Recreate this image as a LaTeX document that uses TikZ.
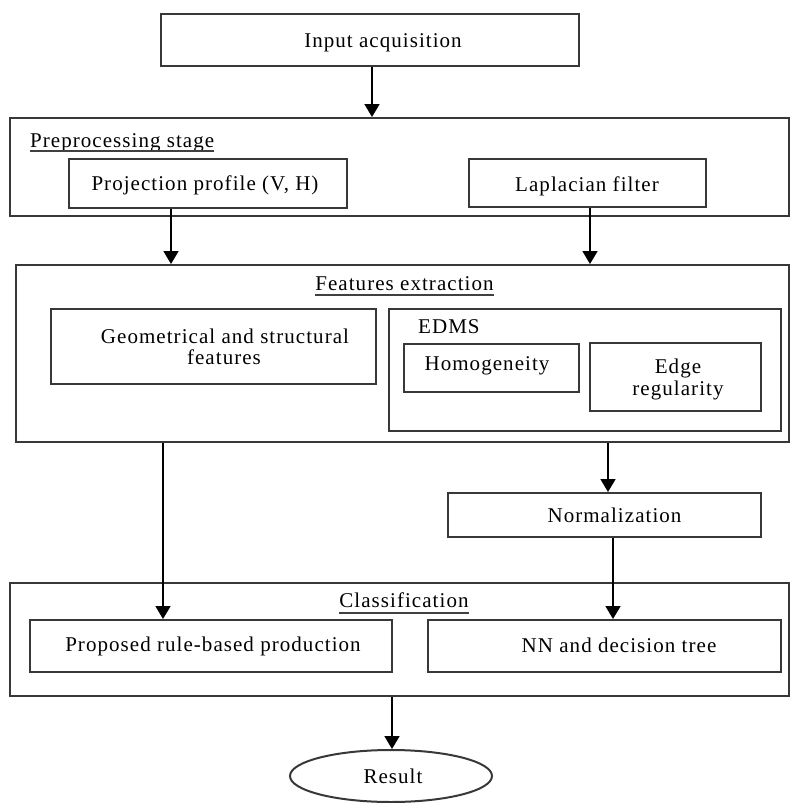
\documentclass[tikz,border=0pt]{standalone}
\usepackage{fontspec}
\setmainfont{Liberation Serif}[LetterSpace=5]
\usetikzlibrary{arrows.meta,shapes.geometric}
\tikzset{
  box/.style={draw=black!78, line width=2pt, rectangle, inner sep=0pt},
  lbl/.style={inner sep=0pt, font=\fontsize{21}{22}\selectfont, text=black, anchor=base, align=center},
  arr/.style={draw=black, line width=1.8pt, -{Triangle[width=15pt,length=13pt]}},
  uline/.style={draw=black!75, line width=1.5pt}
}
\begin{document}
\begin{tikzpicture}[x=1pt,y=-1pt]
\useasboundingbox (0,0) rectangle (791,803);
% boxes
\node[box, minimum width=418pt, minimum height=52pt] (inp) at (370,40) {};
\node[box, minimum width=779pt, minimum height=98pt] (pre) at (399.5,167) {};
\node[box, minimum width=278pt, minimum height=49pt] (proj) at (208,183.5) {};
\node[box, minimum width=237pt, minimum height=48pt] (lap) at (587.5,183) {};
\node[box, minimum width=773pt, minimum height=177pt] (feat) at (402.5,353.5) {};
\node[box, minimum width=325pt, minimum height=75pt] (geo) at (213.5,346.5) {};
\node[box, minimum width=392pt, minimum height=122pt] (edms) at (585,370) {};
\node[box, minimum width=175pt, minimum height=48pt] (hom) at (491.5,368) {};
\node[box, minimum width=171pt, minimum height=68pt] (edge) at (675.5,377) {};
\node[box, minimum width=313pt, minimum height=44pt] (norm) at (604.5,515) {};
\node[box, minimum width=779pt, minimum height=113pt] (cls) at (399.5,639.5) {};
\node[box, minimum width=362pt, minimum height=52pt] (prop) at (211,646) {};
\node[box, minimum width=353pt, minimum height=52pt] (nn) at (604.5,646) {};
\node[box, ellipse, minimum width=202pt, minimum height=52pt] (res) at (391,776) {};
% labels
\node[lbl] (tinp) at (383,47) {Input acquisition};
\node[lbl, anchor=base west] (tpre) at (30,147) {Preprocessing stage};
\node[lbl] (tproj) at (205,190) {Projection profile (V, H)};
\node[lbl] (tlap) at (587,191) {Laplacian filter};
\node[lbl] (tfeat) at (404.5,290) {Features extraction};
\node[lbl] (tgeo1) at (225,343) {Geometrical and structural};
\node[lbl] (tgeo2) at (224,364) {features};
\node[lbl, anchor=base west] (tedms) at (418,333) {EDMS};
\node[lbl] (thom) at (487,370) {Homogeneity};
\node[lbl] (tedge1) at (678,373) {Edge};
\node[lbl] (tedge2) at (678,395) {regularity};
\node[lbl] (tnorm) at (614.5,522) {Normalization};
\node[lbl] (tcls) at (404,607) {Classification};
\node[lbl] (tprop) at (213,651) {Proposed rule-based production};
\node[lbl] (tnn) at (619,652) {NN and decision tree};
\node[lbl] (tres) at (393,783) {Result};
% underlines
\draw[uline] ([yshift=-4pt]tpre.base west) -- ([yshift=-4pt]tpre.base east);
\draw[uline] ([yshift=-5pt]tfeat.base west) -- ([yshift=-5pt]tfeat.base east);
\draw[uline] ([yshift=-6pt]tcls.base west) -- ([yshift=-6pt]tcls.base east);
% arrow columns
\coordinate (c1) at (372,0);
\coordinate (c2) at (171,0);
\coordinate (c3) at (590,0);
\coordinate (c4) at (608,0);
\coordinate (c5) at (613,0);
\coordinate (c6) at (163,0);
\coordinate (c7) at (392,0);
% arrows
\draw[arr] (inp.south -| c1) -- (pre.north -| c1);
\draw[arr] (proj.south -| c2) -- (feat.north -| c2);
\draw[arr] (lap.south -| c3) -- (feat.north -| c3);
\draw[arr] (feat.south -| c4) -- (norm.north -| c4);
\draw[arr] (norm.south -| c5) -- (nn.north -| c5);
\draw[arr] (feat.south -| c6) -- (prop.north -| c6);
\draw[arr] (cls.south -| c7) -- (res.north -| c7);
\end{tikzpicture}
\end{document}
